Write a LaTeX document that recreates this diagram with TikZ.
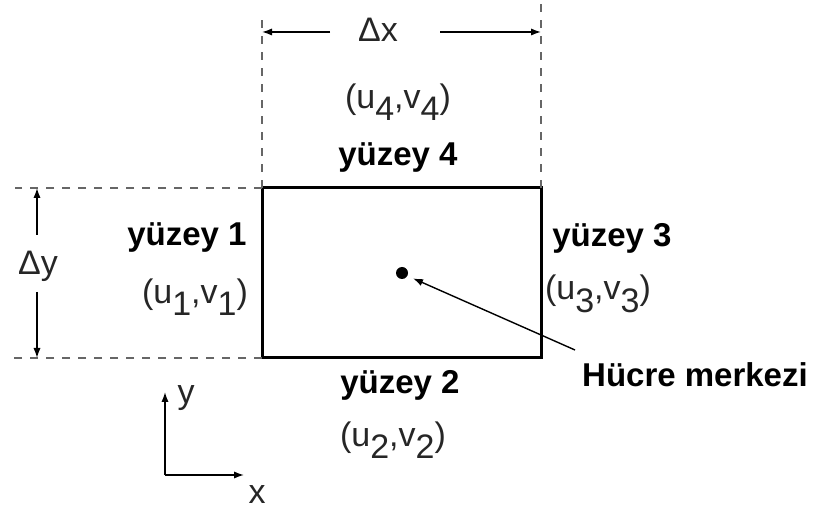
\documentclass[tikz,border=0pt]{standalone}
\usepackage{fontspec}
\setmainfont{Liberation Sans}
\usetikzlibrary{arrows.meta,positioning}
\tikzset{
  cell/.style={draw, line width=1.5pt},
  guide/.style={draw=black!60, line width=0.75pt, dash pattern=on 4pt off 4pt},
  dim/.style={-{Latex[length=5pt,width=3.6pt]}, line width=0.7pt},
  face/.style={font=\fontsize{16.5}{20}\selectfont\bfseries, inner sep=0pt},
  vel/.style={font=\fontsize{17}{20}\selectfont, text=black!85, inner sep=0pt},
}
\newcommand{\lowd}[1]{\raisebox{-0.7ex}{#1}}
\newcommand{\uvpair}[1]{(u\lowd{#1},v\lowd{#1})}

\begin{document}
\begin{tikzpicture}[x=0.5pt, y=-0.5pt]
  \useasboundingbox (0,0) rectangle (818,512);

  % cell corners
  \coordinate (sw) at (262,358);
  \coordinate (se) at (541,358);
  \coordinate (nw) at (262,188);
  \coordinate (ne) at (541,188);
  \draw[cell] (sw) rectangle (ne);

  % guide lines
  \coordinate (nwtop) at (262,14);
  \coordinate (netop) at (541,0);
  \coordinate (nwleft) at (15,188);
  \coordinate (swleft) at (12,358);
  \draw[guide] (nw) -- (nwtop);
  \draw[guide] (ne) -- (netop);
  \draw[guide] (nw) -- (nwleft);
  \draw[guide] (sw) -- (swleft);

  % dimensions
  \node[vel] (dx) at (378,30) {Δx};
  \coordinate (dxl) at (262,32);
  \coordinate (dxr) at (541,32);
  \coordinate (dxla) at (330,32);
  \coordinate (dxra) at (440,32);
  \draw[dim] (dxla) -- (dxl);
  \draw[dim] (dxra) -- (dxr);
  \node[vel] (dy) at (38,266) {Δy};
  \coordinate (dyt) at (37,188);
  \coordinate (dyb) at (37,358);
  \coordinate (dyta) at (37,235);
  \coordinate (dyba) at (37,292);
  \draw[dim] (dyta) -- (dyt);
  \draw[dim] (dyba) -- (dyb);

  % faces
  \node[face] (f4) at (398,158) {yüzey 4};
  \node[vel] (uv4) at (398,102) {\uvpair{4}};
  \node[face] (f1) at (187,238) {yüzey 1};
  \node[vel] (uv1) at (195,297) {\uvpair{1}};
  \node[face] (f3) at (612,238) {yüzey 3};
  \node[vel] (uv3) at (598,294) {\uvpair{3}};
  \node[face] (f2) at (400,385) {yüzey 2};
  \node[vel] (uv2) at (393,440) {\uvpair{2}};

  % cell centre
  \fill (402,273) circle (3pt) coordinate (ctr);
  \node[face] (hm) at (695,375) {Hücre merkezi};
  \coordinate (hmtail) at (575,350);
  \draw[dim] (hmtail) -- ([xshift=5.5pt,yshift=-2.7pt]ctr);

  % axes
  \coordinate (org) at (165,475);
  \coordinate (yend) at (165,392);
  \coordinate (xend) at (244,475);
  \draw[dim] (org) -- (yend);
  \draw[dim] (org) -- (xend);
  \node[vel] (ylab) at (186,398) {y};
  \node[vel] (xlab) at (257,495) {x};
\end{tikzpicture}
\end{document}
